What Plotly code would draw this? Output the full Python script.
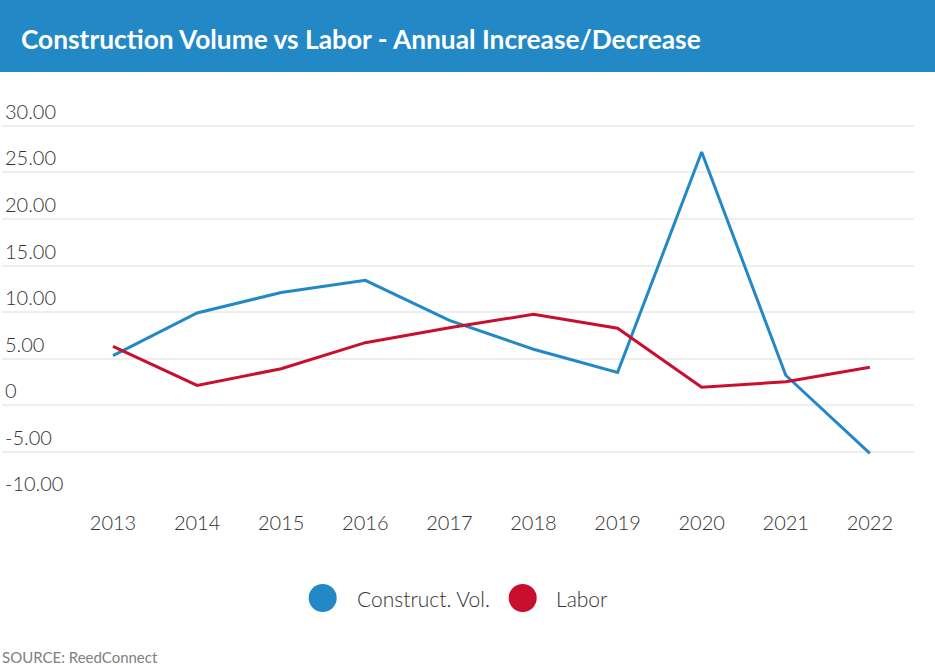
import plotly.graph_objects as go

years = [2013, 2014, 2015, 2016, 2017, 2018, 2019, 2020, 2021, 2022]
construct_vol = [5.3, 9.9, 12.1, 13.4, 9.1, 6.0, 3.5, 27.2, 3.2, -5.2]
labor = [6.3, 2.1, 3.9, 6.7, 8.3, 9.75, 8.25, 1.9, 2.5, 4.05]
y_ticks = [-10, -5, 0, 5, 10, 15, 20, 25, 30]
y_tick_labels = ["-10.00", "-5.00", "0", "5.00", "10.00", "15.00", "20.00", "25.00", "30.00"]
series_names = ["Construct. Vol.", "Labor"]

BLUE = "#2289c6"
RED = "#c8102e"
FONT = "Lato"

fig = go.Figure()
fig.add_trace(go.Scatter(x=years, y=construct_vol, mode="lines", name=series_names[0],
                         line=dict(color=BLUE, width=3), showlegend=False))
fig.add_trace(go.Scatter(x=years, y=labor, mode="lines", name=series_names[1],
                         line=dict(color=RED, width=3), showlegend=False))

W, H = 935, 666
L, R, T, B = 2, 21, 98, 168
pw, ph = W - L - R, H - T - B


def px(x):
    return (x - L) / pw


def py(y):
    return (H - B - y) / ph


fig.update_layout(
    width=W, height=H,
    margin=dict(l=L, r=R, t=T, b=B),
    paper_bgcolor="white", plot_bgcolor="white",
    font=dict(family=FONT, color="#333333"),
    xaxis=dict(
        range=[2011.68, 2022.525], tickvals=years, ticktext=[str(y) for y in years],
        showgrid=False, zeroline=False, showline=False, ticks="",
        tickfont=dict(size=20, color="#333333", family=FONT, weight=300),
        ticklabelstandoff=11,
    ),
    yaxis=dict(
        range=[-10, 33.01], tickvals=y_ticks, ticktext=y_tick_labels,
        showgrid=True, gridcolor="#eeeeee", gridwidth=2, zeroline=False,
        showline=False, ticks="", ticklabelposition="inside top",
        tickfont=dict(size=20, color="#333333", family=FONT, weight=300),
    ),
    shapes=[
        dict(type="rect", xref="paper", yref="paper", x0=px(0), x1=px(W),
             y0=py(72), y1=py(0),
             fillcolor=BLUE, line=dict(width=0), layer="below"),
    ],
    annotations=[
        dict(text="<b>Construction Volume vs Labor - Annual Increase/Decrease</b>",
             xref="paper", yref="paper", x=px(19), xanchor="left",
             y=py(39), yanchor="middle", showarrow=False,
             font=dict(size=26.3, color="white", family=FONT)),
        dict(text="SOURCE: ReedConnect", xref="paper", yref="paper",
             x=px(0), xanchor="left",
             y=py(657), yanchor="middle", showarrow=False,
             font=dict(size=15, color="#808080", family=FONT)),
    ],
)

# custom legend with large circles
legend_items = [(322.7, 355, series_names[0], BLUE), (522.7, 554, series_names[1], RED)]
for cx, tx, name, col in legend_items:
    fig.add_shape(type="circle", xref="paper", yref="paper",
                  x0=px(cx - 14), x1=px(cx + 14), y0=py(598 + 14), y1=py(598 - 14),
                  fillcolor=col, line=dict(width=0))
    fig.add_annotation(text=name, xref="paper", yref="paper", x=px(tx), xanchor="left",
                       y=py(598), yanchor="middle", showarrow=False,
                       font=dict(size=21, color="#333333", family=FONT, weight=300))

fig.write_html("out.html", config={"displayModeBar": False},
               post_script="document.body.style.margin='0';")
